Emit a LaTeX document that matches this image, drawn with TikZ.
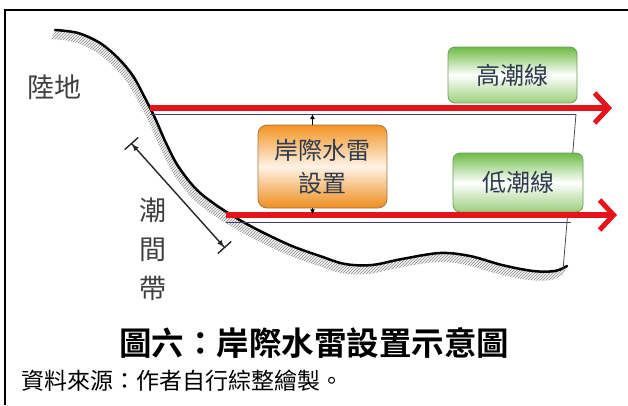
\documentclass[tikz,border=0pt]{standalone}
\usepackage{fontspec}
\usetikzlibrary{arrows.meta,calc}
\newfontfamily\cjk{Noto Sans CJK TC}
\newfontfamily\cjkbold{Noto Sans CJK TC Bold}
\definecolor{tidered}{HTML}{E5141B}
\definecolor{inkline}{HTML}{3C3F6B}
\definecolor{labelgray}{HTML}{3F3F3F}
\definecolor{boxtext}{HTML}{2F3A4C}
\definecolor{grtop}{HTML}{6DBB45}
\definecolor{grbot}{HTML}{9CCF7C}
\definecolor{grline}{HTML}{6E9A5A}
\definecolor{ortop}{HTML}{F29423}
\definecolor{orbot}{HTML}{EE8E1E}
\definecolor{orline}{HTML}{A87440}
\begin{document}
\begin{tikzpicture}[x=1pt,y=1pt,
  frame/.style={line width=2.2pt,black},
  shore/.style={line width=2.5pt,black,line cap=round},
  hatchline/.style={gray!75,line width=0.9pt},
  tideline/.style={line width=6pt,tidered,
    -{Straight Barb[length=14pt,width=30pt,line width=5pt]}},
  thinline/.style={line width=1pt,inkline},
  greenbox/.style={draw=grline,line width=0.8pt,rounded corners=7pt,
    top color=grtop,bottom color=grbot,middle color=white,
    text=boxtext,font=\cjk\fontsize{24}{24}\selectfont},
  orangebox/.style={draw=orline,line width=0.8pt,rounded corners=9pt,
    top color=ortop,bottom color=orbot,middle color=white!90!orange,
    text=boxtext,align=center,font=\cjk\fontsize{24}{24}\selectfont},
  darklabel/.style={text=labelgray,font=\cjk\fontsize{27}{27}\selectfont},
  span/.style={line width=1.4pt,black!85,
    {Bar[width=18pt]Latex[length=7pt,width=6pt]}-{Latex[length=7pt,width=6pt]Bar[width=18pt]}},
  mark arrow/.style={line width=1pt,black,-{Latex[length=5pt,width=5pt]}}
]
\useasboundingbox (0,0) rectangle (628,-405);

% outer frame: top rule and left rule
\coordinate (ftl) at (5,-10);
\coordinate (ftr) at (628,-10);
\coordinate (fbl) at (5,-405);
\draw[frame] (ftr) -- (ftl) -- (fbl);

% hatched seabed band under the shoreline
\begin{scope}
  \clip plot[smooth,tension=0.55] coordinates {
    (55,-30) (78,-33) (100,-43) (118,-58) (133,-76) (145,-98) (155,-118)
    (166,-143) (178,-166) (196,-189) (216,-205) (238,-219) (262,-232)
    (292,-246) (320,-256) (345,-264) (372,-265) (402,-259) (440,-253)
    (470,-256) (502,-265) (533,-271) (555,-271) (567,-266)}
    -- plot[smooth,tension=0.55] coordinates {
    (563,-275) (551,-280) (529,-280) (498,-274) (466,-265) (436,-262)
    (398,-268) (368,-274) (341,-273) (316,-265) (288,-255) (258,-241)
    (234,-228) (212,-214) (192,-198) (174,-175) (162,-152) (151,-127)
    (141,-107) (129,-85) (114,-67) (96,-52) (74,-42) (51,-39)} -- cycle;
  \foreach \i in {40,43,...,900}
    \draw[hatchline] (\i,0) -- ++(-300,-300);
\end{scope}

% shoreline profile
\draw[shore] plot[smooth,tension=0.55] coordinates {
  (55,-30) (78,-33) (100,-43) (118,-58) (133,-76) (145,-98) (155,-118)
  (166,-143) (178,-166) (196,-189) (216,-205) (238,-219) (262,-232)
  (292,-246) (320,-256) (345,-264) (372,-265) (402,-259) (440,-253)
  (470,-256) (502,-265) (533,-271) (555,-271) (567,-266)};

% right-hand vertical guide
\coordinate (vtop) at (576,-114);
\coordinate (vbot) at (563,-270);
\draw[line width=0.8pt,black!70] (vtop) -- (vbot);

% labelled boxes
\node[greenbox,minimum width=129pt,minimum height=56pt] (hw) at (512.5,-75) {高潮線};
\node[greenbox,minimum width=130pt,minimum height=59pt] (lw) at (518,-182.5) {低潮線};
\node[orangebox,minimum width=129pt,minimum height=83pt] (mine) at (322.5,-166.5)
  {岸際水雷\\[9pt]設置};

% high and low water lines
\coordinate (hwL) at (150,-108);
\coordinate (hwR) at (612,-108);
\coordinate (lwL) at (226,-215);
\coordinate (lwR) at (617,-215);
\coordinate (hwtA) at (150,-114);
\coordinate (lwtA) at (226,-222);
\coordinate (lwtB) at (571,-222);
\draw[thinline] (hwtA) -- (vtop);
\draw[thinline] (lwtA) -- (lwtB);
\draw[tideline] (hwL) -- (hwR);
\draw[tideline] (lwL) -- (lwR);

% placement markers from the mine box to both lines
\coordinate (mtop) at ($(mine.north)+(-10,0)$);
\coordinate (mbot) at ($(mine.south)+(-10,0)$);
\draw[mark arrow] (mtop) -- (mtop |- hwtA);
\draw[mark arrow] (mbot) -- ($(mbot)+(0,-6)$);

% intertidal span
\coordinate (za) at (131,-143);
\coordinate (zb) at (225,-248);
\draw[span] (za) -- (zb);

% text labels
\node[darklabel] (land) at (54,-87) {陸地};
\node[darklabel,align=center,font=\cjk\fontsize{27}{39}\selectfont] (zone) at (153,-249)
  {潮\\間\\帶};

% caption and source line
\node[anchor=base,font=\cjkbold\fontsize{32.5}{32.5}\selectfont] (cap) at (314,-355) {圖六：岸際水雷設置示意圖};
\node[anchor=base west,font=\cjk\fontsize{23}{23}\selectfont] (src) at (18,-389) {資料來源：作者自行綜整繪製。};
\end{tikzpicture}
\end{document}
